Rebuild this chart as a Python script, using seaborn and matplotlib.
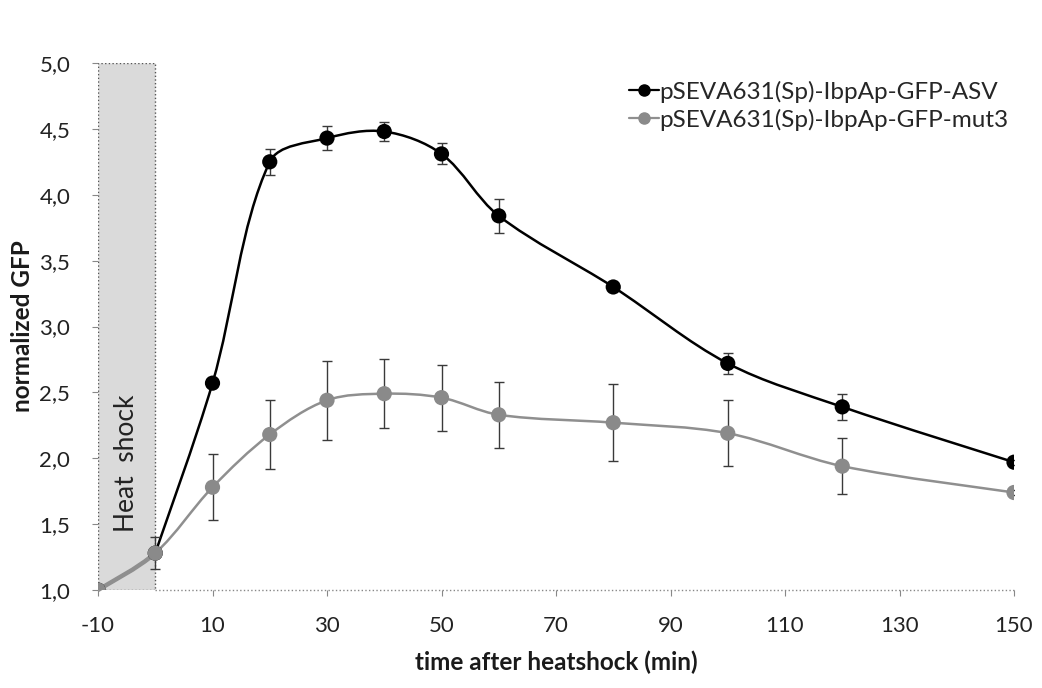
import numpy as np
import pandas as pd
import matplotlib
matplotlib.use("Agg")
import matplotlib.pyplot as plt
import seaborn as sns
from matplotlib.path import Path
from matplotlib.patches import PathPatch, Rectangle
from matplotlib.ticker import FuncFormatter
from matplotlib.lines import Line2D

# ---- data ----
time_min = [-10, 0, 10, 20, 30, 40, 50, 60, 80, 100, 120, 150]
asv_mean = [1.00, 1.28, 2.57, 4.25, 4.43, 4.48, 4.31, 3.84, 3.30, 2.72, 2.39, 1.97]
asv_err = [0.00, 0.00, 0.00, 0.10, 0.09, 0.07, 0.08, 0.13, 0.03, 0.08, 0.10, 0.02]
mut3_mean = [1.00, 1.28, 1.78, 2.18, 2.44, 2.49, 2.46, 2.33, 2.27, 2.19, 1.94, 1.74]
mut3_err = [0.00, 0.12, 0.25, 0.26, 0.30, 0.26, 0.25, 0.25, 0.29, 0.25, 0.21, 0.02]
label_asv = "pSEVA631(Sp)-IbpAp-GFP-ASV"
label_mut3 = "pSEVA631(Sp)-IbpAp-GFP-mut3"
x_ticks = [-10, 10, 30, 50, 70, 90, 110, 130, 150]
y_ticks = [1.0, 1.5, 2.0, 2.5, 3.0, 3.5, 4.0, 4.5, 5.0]
heat_start, heat_end = -10, 0

df = pd.DataFrame({
    "time": time_min * 2,
    "gfp": asv_mean + mut3_mean,
    "err": asv_err + mut3_err,
    "construct": [label_asv] * len(time_min) + [label_mut3] * len(time_min),
})

sns.set_theme(style="white")
plt.rcParams["font.family"] = ["Lato", "DejaVu Sans"]
plt.rcParams["axes.unicode_minus"] = False

fig = plt.figure(figsize=(10.42, 6.88), dpi=100)
ax = fig.add_axes([98 / 1042, 1 - 590 / 688, (1014 - 98) / 1042, (590 - 63) / 688])
ax.set_xlim(-10, 150)
ax.set_ylim(1.0, 5.0)

# pixel scale per data unit (for chord-length smoothing like a spreadsheet's smoothed line)
SX = (1014 - 98) / 160.0
SY = (590 - 63) / 4.0


def smooth_path(xs, ys, t=1.0 / 3.0):
    P = np.column_stack([np.asarray(xs, float) * SX, np.asarray(ys, float) * SY])
    n = len(P)
    d = np.linalg.norm(np.diff(P, axis=0), axis=1)
    c_out = [None] * n
    c_in = [None] * n
    for i in range(n):
        if i == 0:
            T = P[1] - P[0]
            c_out[i] = P[0] + T * t * 0.5
        elif i == n - 1:
            T = P[-1] - P[-2]
            c_in[i] = P[-1] - T * t * 0.5
        else:
            T = P[i + 1] - P[i - 1]
            s = d[i - 1] + d[i]
            c_in[i] = P[i] - T * d[i - 1] / s * t
            c_out[i] = P[i] + T * d[i] / s * t
    verts = [P[0]]
    codes = [Path.MOVETO]
    for i in range(n - 1):
        verts += [c_out[i], c_in[i + 1], P[i + 1]]
        codes += [Path.CURVE4] * 3
    V = np.array(verts)
    V[:, 0] /= SX
    V[:, 1] /= SY
    return Path(V, codes)


# heat shock box
ax.add_patch(Rectangle((heat_start, 1.0), heat_end - heat_start, 4.0,
                       facecolor="#dadada", edgecolor="#555555", linestyle=":",
                       linewidth=1.0, zorder=0))
ax.text(-5.0, 1.96, "Heat  shock", rotation=90, ha="center", va="center",
        fontsize=19, color="#222222", zorder=1)

colors = {label_asv: "#000000", label_mut3: "#8a8a8a"}
line_colors = {label_asv: "#000000", label_mut3: "#8f8f8f"}

for lab, mean, err, z, start in [(label_asv, asv_mean, asv_err, 3, 1),
                                  (label_mut3, mut3_mean, mut3_err, 5, 0)]:
    ax.add_patch(PathPatch(smooth_path(time_min[start:], mean[start:]), facecolor="none",
                           edgecolor=line_colors[lab], linewidth=1.8, zorder=z))
    e = np.asarray(err)
    ax.errorbar(time_min, mean, yerr=np.where(e > 0, e, np.nan), fmt="none",
                ecolor="#3a3a3a", elinewidth=1.0, capsize=3.5, capthick=1.0, zorder=z + 0.5)

# thicker gray segment over the heat-shock interval, as in the reference
thick = ax.add_patch(PathPatch(smooth_path(time_min, mut3_mean), facecolor="none",
                               edgecolor="#8f8f8f", linewidth=3.2, zorder=4))
clip_rect = Rectangle((heat_start, 0), heat_end - heat_start, 10,
                      transform=ax.transData, facecolor="none", edgecolor="none")
thick.set_clip_path(clip_rect)

sns.scatterplot(data=df, x="time", y="gfp", hue="construct", palette=colors,
                s=120, edgecolor="none", ax=ax, legend=False, zorder=6)

handles = [Line2D([0], [0], color="#000000", marker="o", markersize=8, lw=1.6),
           Line2D([0], [0], color="#8f8f8f", marker="o", markersize=8, lw=1.6,
                  markerfacecolor="#8a8a8a", markeredgecolor="#8a8a8a")]
ax.legend(handles, [label_asv, label_mut3], loc="upper right", frameon=False,
          fontsize=17.5, handlelength=1.2, handletextpad=0.05, borderaxespad=0.0,
          labelspacing=0.25, bbox_to_anchor=(1.005, 0.985))

for s in ["top", "right", "left", "bottom"]:
    ax.spines[s].set_visible(False)
ax.plot([0, 150], [1.0, 1.0], color="#888888", linestyle=":", linewidth=1.0,
        zorder=1, clip_on=False)

ax.set_xticks(x_ticks)
ax.set_yticks(y_ticks)
ax.yaxis.set_major_formatter(FuncFormatter(lambda v, p: f"{v:.1f}".replace(".", ",")))
ax.tick_params(axis="both", which="both", length=4, width=0.8, color="#888888",
               labelsize=16, labelcolor="#222222", direction="out",
               left=True, bottom=True)
ax.tick_params(axis="x", pad=15)
ax.tick_params(axis="y", pad=16)
ax.set_xlabel("time after heatshock (min)", fontsize=17.5, fontweight="bold",
              color="#1a1a1a", labelpad=10)
ax.set_ylabel("normalized GFP", fontsize=17.5, fontweight="bold",
              color="#1a1a1a", labelpad=4)
ax.grid(False)

fig.savefig("out.png", dpi=100, facecolor="white")
